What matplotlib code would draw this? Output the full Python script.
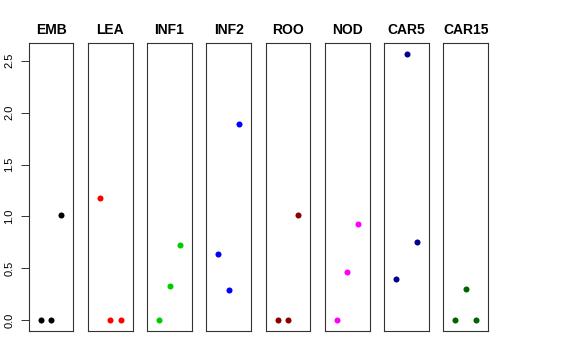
import matplotlib.pyplot as plt

plt.rcParams['font.family'] = ['Liberation Sans', 'DejaVu Sans']

tissues = ['EMB', 'LEA', 'INF1', 'INF2', 'ROO', 'NOD', 'CAR5', 'CAR15']
colors = ['black', 'red', '#00CD00', 'blue', '#8B0000', 'magenta', '#00008B', '#006400']
reps = [1, 2, 3]
values = [
    [0.0, 0.0, 1.015],
    [1.179, 0.0, 0.0],
    [0.0, 0.327, 0.724],
    [0.64, 0.288, 1.89],
    [0.0, 0.0, 1.015],
    [0.0, 0.467, 0.923],
    [0.40, 2.564, 0.753],
    [0.0, 0.301, 0.0],
]
yticks = [0.0, 0.5, 1.0, 1.5, 2.0, 2.5]

W, H = 576, 360
fig = plt.figure(figsize=(W / 100, H / 100), dpi=100)

left0, step, pw = 28.7, 59.25, 44.7
top, bottom = 43.3, 331.0
ymax = max(max(v) for v in values)
pad = 0.04 * ymax

for i, (name, col, vals) in enumerate(zip(tissues, colors, values)):
    ax = fig.add_axes([(left0 + i * step) / W, (H - bottom) / H,
                       pw / W, (bottom - top) / H])
    ax.scatter(reps, vals, s=19, color=col, zorder=3, linewidths=0)
    ax.set_xlim(-0.16, 4.16)
    ax.set_ylim(-pad, ymax + pad)
    ax.set_xticks([])
    for sp in ax.spines.values():
        sp.set_linewidth(0.8)
        sp.set_color('#333333')
    ax.set_title(name, fontsize=10, fontweight='bold', pad=7)
    if i == 0:
        ax.set_yticks(yticks)
        ax.set_yticklabels([f'{t:.1f}' for t in yticks], rotation=90,
                           va='center', fontsize=8)
        ax.tick_params(axis='y', length=5.8, width=0.7, pad=4.5, colors='#333333',
                       labelcolor='black')
    else:
        ax.set_yticks([])

fig.savefig('out.png', dpi=100)
